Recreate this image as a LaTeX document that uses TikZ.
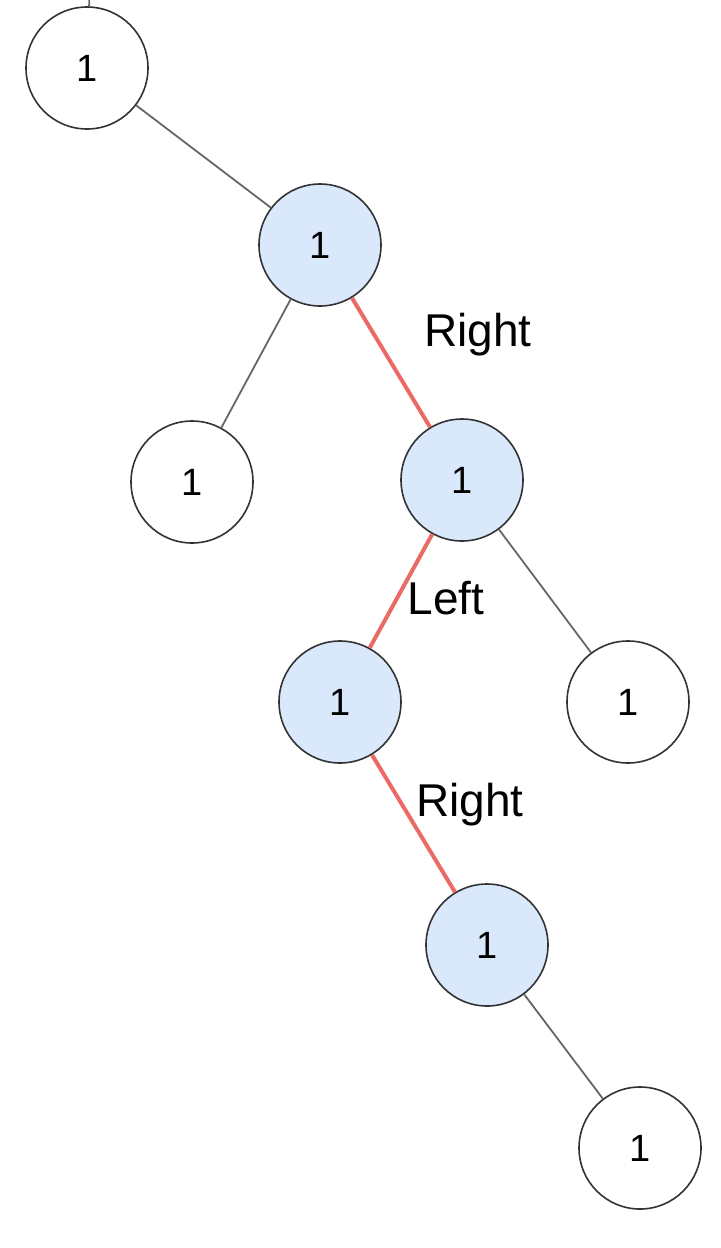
\documentclass[tikz,border=0pt]{standalone}
\usepackage{fontspec}
\setmainfont{Liberation Sans}
\usetikzlibrary{positioning}
\definecolor{nodeblue}{HTML}{DAE8FC}
\definecolor{edgered}{HTML}{EA6B66}
\tikzset{
  leaf/.style={circle, draw=black!80, line width=0.8pt, minimum size=61pt, inner sep=0pt, font=\fontsize{19}{19}\selectfont},
  visited/.style={leaf, fill=nodeblue},
  edge/.style={draw=black!60, line width=0.9pt},
  hot/.style={draw=edgered, line width=2pt},
  dir/.style={font=\fontsize{23}{23}\selectfont}
}
\begin{document}
\begin{tikzpicture}[x=0.5pt, y=-0.5pt]
  \useasboundingbox (0,0) rectangle (720,1248);
  % tree
  \node[leaf] (a) at (87,68) {1};
  \node[visited] (b) at (320,245) {1};
  \node[leaf] (c) at (192,482) {1};
  \node[visited] (d) at (462,480) {1};
  \node[visited] (e) at (340,702) {1};
  \node[leaf] (f) at (628,702) {1};
  \node[visited] (g) at (487,945) {1};
  \node[leaf] (h) at (640,1148) {1};
  \coordinate (top) at (90,-20);
  % edges
  \draw[edge] (top) -- (a);
  \draw[edge] (a) -- (b);
  \draw[edge] (b) -- (c);
  \draw[hot] (b) -- (d);
  \draw[hot] (d) -- (e);
  \draw[edge] (d) -- (f);
  \draw[hot] (e) -- (g);
  \draw[edge] (g) -- (h);
  % labels
  \node[dir] (l1) at (478,335) {Right};
  \node[dir] (l2) at (446,598) {Left};
  \node[dir] (l3) at (470,805) {Right};
\end{tikzpicture}
\end{document}
